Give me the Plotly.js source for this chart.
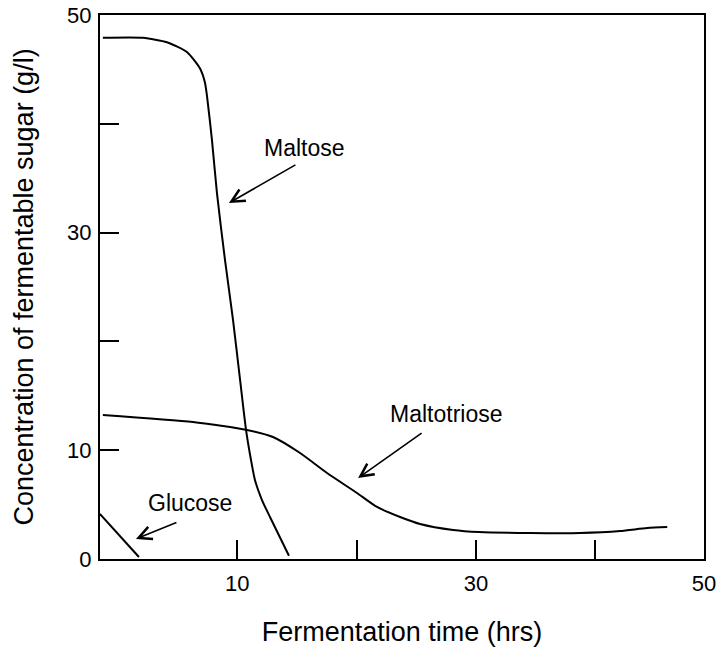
<!DOCTYPE html>
<html>
<head>
<meta charset="utf-8">
<script src="https://cdn.plot.ly/plotly-3.0.1.min.js"></script>
<style>html,body{margin:0;padding:0;background:#fff;}#chart{width:720px;height:647px;}</style>
</head>
<body>
<div id="chart"></div>
<script>
// Maltose concentration (g/l) vs fermentation time (hrs)
const maltoseTime = [-1.26, 2.10, 4.11, 5.78, 6.87, 7.29, 7.46, 7.88, 8.30, 8.97, 9.64, 10.23, 10.73, 11.15, 11.48, 12.07, 12.74, 14.33];
const maltoseConc = [47.9, 47.9, 47.5, 46.6, 45.1, 43.8, 42.6, 38.5, 33.6, 27.5, 22.0, 16.5, 11.9, 9.1, 7.26, 5.42, 3.86, 0.3];

// Maltotriose
const maltotrioseTime = [-1.26, 6.29, 10.81, 12.99, 15.26, 17.52, 20.03, 21.71, 23.64, 25.31, 28.08, 30.26, 34.53, 38.73, 42.08, 44.34, 46.02];
const maltotrioseConc = [13.24, 12.59, 11.86, 11.21, 9.74, 7.90, 6.07, 4.78, 3.86, 3.22, 2.67, 2.48, 2.39, 2.39, 2.57, 2.85, 2.94];

// Glucose
const glucoseTime = [-1.51, 1.76];
const glucoseConc = [4.14, 0.18];

// Tick labels
const xTickVals = [10, 20, 30, 40, 49.1];
const xTickText = ["10", "", "30", "", "50"];
const yTickVals = [0, 10, 20, 30, 40, 50];
const yTickText = ["0", "10", "", "30", "", "50"];

const FONT = "Liberation Sans, Arial, sans-serif";
const lineStyle = {color: "#000", width: 2, shape: "spline", smoothing: 0.6};

const traces = [
  {x: maltoseTime, y: maltoseConc, mode: "lines", line: lineStyle, name: "Maltose", hoverinfo: "skip"},
  {x: maltotrioseTime, y: maltotrioseConc, mode: "lines", line: lineStyle, name: "Maltotriose", hoverinfo: "skip"},
  {x: glucoseTime, y: glucoseConc, mode: "lines", line: {color: "#000", width: 2}, name: "Glucose", hoverinfo: "skip"}
];

const arrow = (x, y, ax, ay) => ({x: x, y: y, ax: ax, ay: ay, xref: "x", yref: "y", text: "", showarrow: true,
  arrowhead: 5, arrowsize: 1.6, arrowwidth: 1.6, arrowcolor: "#000", standoff: 0, startstandoff: 0});
const label = (x, y, t) => ({x: x, y: y, xref: "x", yref: "y", text: t, showarrow: false,
  font: {family: FONT, size: 23, color: "#000"}, xanchor: "center", yanchor: "middle"});

const layout = {
  width: 720, height: 647,
  margin: {l: 100, r: 16, t: 15, b: 88},
  paper_bgcolor: "#fff", plot_bgcolor: "#fff",
  showlegend: false,
  font: {family: FONT, color: "#000"},
  xaxis: {
    range: [-1.5, 49.1], showgrid: false, zeroline: false,
    showline: true, linecolor: "#000", linewidth: 2, mirror: true,
    ticks: "inside", ticklen: 19, tickwidth: 1.8, tickcolor: "#000",
    tickmode: "array", tickvals: xTickVals, ticktext: xTickText,
    tickfont: {family: FONT, size: 22, color: "#000"}, ticklabelstandoff: 4,
    title: {text: "Fermentation time (hrs)", font: {family: FONT, size: 27, color: "#000"}, standoff: 30}
  },
  yaxis: {
    range: [0, 50], showgrid: false, zeroline: false,
    showline: true, linecolor: "#000", linewidth: 2, mirror: true,
    ticks: "inside", ticklen: 19, tickwidth: 1.8, tickcolor: "#000",
    tickmode: "array", tickvals: yTickVals, ticktext: yTickText,
    tickfont: {family: FONT, size: 22, color: "#000"}, ticklabelstandoff: 2,
    title: {text: "Concentration of fermentable sugar (g/l)", font: {family: FONT, size: 27, color: "#000"}, standoff: 26}
  },
  annotations: [
    label(15.67, 37.78, "Maltose"),
    label(6.04, 5.15, "Glucose"),
    label(27.49, 13.33, "Maltotriose"),
    arrow(9.30, 32.72, 68, -39),
    arrow(1.51, 1.84, 42, -17),
    arrow(20.12, 7.44, 65, -46)
  ]
};

Plotly.newPlot("chart", traces, layout, {displayModeBar: false, staticPlot: true});
</script>
</body>
</html>
